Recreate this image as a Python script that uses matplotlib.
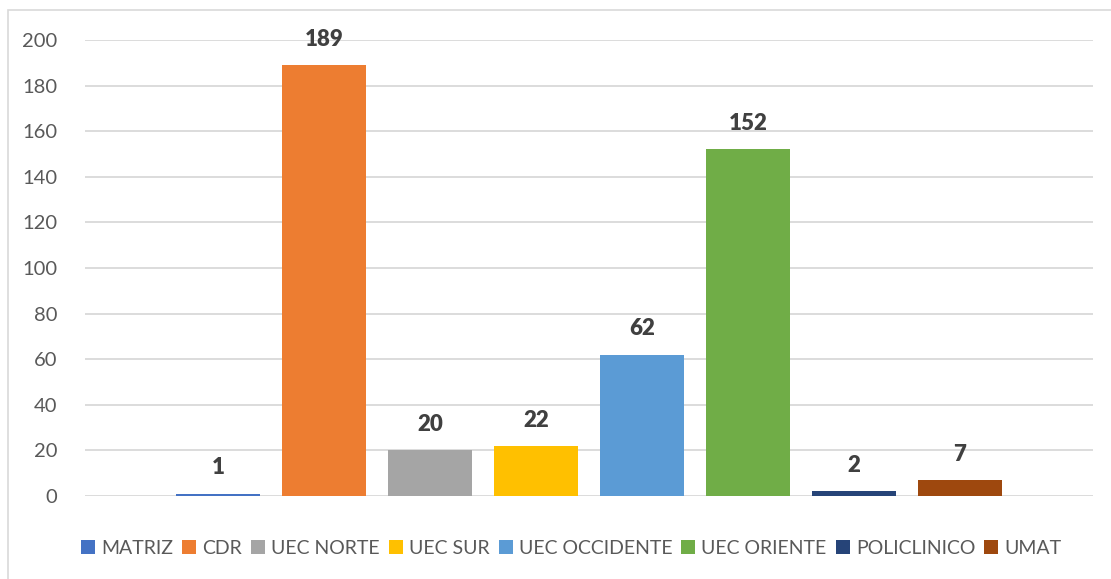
import numpy as np
import matplotlib
matplotlib.use('Agg')
from matplotlib import pyplot as plt
from matplotlib.patches import Rectangle
from matplotlib.lines import Line2D

# data
series_names = ['MATRIZ', 'CDR', 'UEC NORTE', 'UEC SUR', 'UEC OCCIDENTE',
                'UEC ORIENTE', 'POLICLINICO', 'UMAT']
series_values = [1, 189, 20, 22, 62, 152, 2, 7]
series_colors = ['#4472C4', '#ED7D31', '#A5A5A5', '#FFC000', '#5B9BD5',
                 '#70AD47', '#264478', '#9E480E']
y_ticks = [0, 20, 40, 60, 80, 100, 120, 140, 160, 180, 200]

plt.rcParams['font.family'] = ['Lato', 'DejaVu Sans']

W, H = 1111, 579
fig = plt.figure(figsize=(W / 100, H / 100), dpi=100)
ax = fig.add_axes([85 / W, 1 - 496 / H, (1093 - 85) / W, (496 - 40) / H])

# outer chart border
fig.patches.append(Rectangle((8 / W, -0.05), 1.1, 1 - 10 / H + 0.05,
                             transform=fig.transFigure, fill=False,
                             edgecolor='#D9D9D9', linewidth=1.2))

n = len(series_names)
bar_w = 84 / 106
handles = []
for i in range(n):
    xpos = i - (n - 1) / 2
    ax.bar(xpos, series_values[i], bar_w, color=series_colors[i],
           label=series_names[i], zorder=3)
    # square legend key
    handles.append(Line2D([], [], linestyle='none', marker='s', markersize=10,
                          markerfacecolor=series_colors[i], markeredgewidth=0))
    ax.annotate(str(series_values[i]), (xpos, series_values[i]),
                xytext=(0, 11), textcoords='offset points', ha='center',
                va='bottom', fontsize=16, fontweight='heavy', color='#404040')

half = (1093 - 85) / 2 / 106
ax.set_xlim(-half, half)
ax.set_ylim(0, 200)
ax.set_yticks(y_ticks)
ax.set_xticks([])
ax.tick_params(axis='y', length=0, pad=20, labelsize=14.5, labelcolor='#595959')
ax.grid(axis='y', color='#D9D9D9', linewidth=1.3, zorder=0)
for s in ax.spines.values():
    s.set_visible(False)

fig.legend(handles=handles, labels=series_names, loc='center',
           bbox_to_anchor=(0.514, 1 - 548 / H), ncol=n, frameon=False,
           fontsize=14, labelcolor='#595959', handlelength=0.75,
           handletextpad=0.3, columnspacing=0.45)

plt.savefig('out.png', dpi=100)
